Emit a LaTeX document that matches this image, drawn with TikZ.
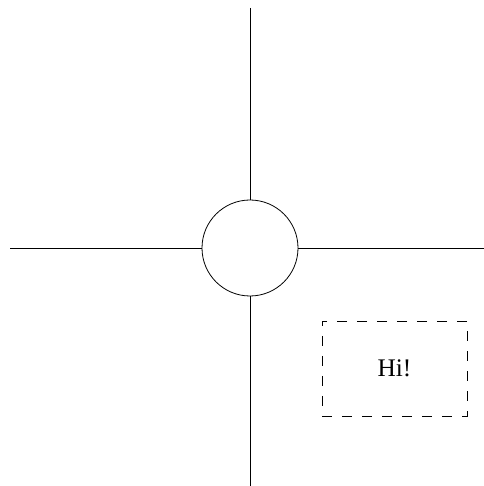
\documentclass[tikz,border=0pt]{standalone}
\usepackage{fontspec}
\setmainfont{Liberation Serif}
\usepackage{tikz}
\usetikzlibrary{positioning}

\begin{document}
\begin{tikzpicture}[x=0.75pt, y=0.75pt, line width=0.6pt,
  hub/.style={draw, circle, inner sep=0pt, minimum size=72pt},
  note/.style={draw, dash pattern=on 7.5pt off 7.5pt, minimum width=108.75pt, minimum height=71.25pt, font=\fontsize{19}{23}\selectfont},
  spoke/.style={draw}]
\useasboundingbox (0,0) rectangle (484,486);
\node[hub] (center) at (250,238) {};
\coordinate (north) at (250,478);
\coordinate (south) at (250,0);
\coordinate (west) at (10,238);
\coordinate (east) at (484,238);
\node[note] (hi) at (394.5,117.5) {Hi!};
\draw[spoke] (north) -- (center);
\draw[spoke] (south) -- (center);
\draw[spoke] (west) -- (center);
\draw[spoke] (east) -- (center);
\end{tikzpicture}
\end{document}
